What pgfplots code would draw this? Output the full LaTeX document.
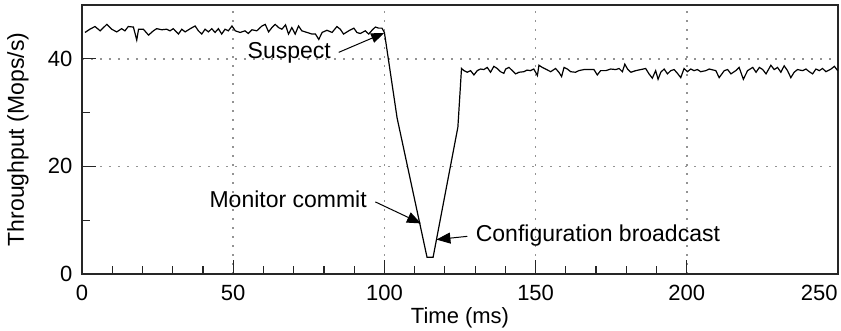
\documentclass[border=0pt]{standalone}
\usepackage{fontspec}
\setmainfont{Liberation Sans}
\usepackage{pgfplots}
\pgfplotsset{compat=1.18}
\usetikzlibrary{arrows.meta}

\begin{document}
\begin{tikzpicture}[font=\fontsize{11bp}{13bp}\selectfont]
\begin{axis}[
  scale only axis, width=378bp, height=134.5bp,
  xmin=0, xmax=250, ymin=0, ymax=50,
  xtick={0,50,...,200},
  extra x ticks={250},
  extra x tick style={grid=none, xticklabel style={anchor=north east, inner xsep=0pt}},
  ytick={0,20,40},
  minor x tick num=4, minor y tick num=1,
  tick pos=left, tick align=inside,
  major tick length=7bp, minor tick length=4bp,
  grid=major,
  major grid style={gray!85, line width=0.8bp, dash pattern=on 0.8bp off 3.7bp},
  axis line style={line width=0.6bp, black!85},
  every tick/.style={black!85, line width=0.6bp},
  /pgf/number format/assume math mode=true,
  xticklabel style={yshift=-1.8bp},
  yticklabel style={xshift=-1.3bp},
  xlabel={Time (ms)}, ylabel={Throughput (Mops/s)},
  xlabel style={at={(axis description cs:0.5,-0.1636)}, anchor=center},
  ylabel style={at={(axis description cs:-0.0847,0.5)}, anchor=center, font=\fontsize{11.5bp}{13bp}\selectfont},
]
\addplot[black, line width=0.6bp] coordinates {
(1.0,44.9) (2.6,45.5) (4.3,46.0) (6.0,45.2) (8.2,46.4) (9.8,45.5) (11.5,45.0)
(13.1,45.6) (14.2,45.2) (15.3,46.0) (17.0,45.9) (18.1,43.5) (18.7,45.5) (20.3,45.5)
(22.0,44.4) (23.6,45.2) (24.7,45.6) (26.4,45.4) (28.0,45.5) (29.1,45.2) (30.2,45.6)
(31.9,44.6) (33.0,45.5) (34.1,45.0) (35.8,45.6) (37.4,46.1) (38.5,45.2) (39.6,44.6)
(40.7,45.5) (41.8,45.0) (42.9,45.6) (44.0,44.9) (45.1,45.6) (46.2,44.6) (47.3,45.5)
(48.4,45.2) (49.6,46.1) (50.7,45.2) (52.3,44.9) (53.9,45.2) (55.0,44.7) (56.2,45.4)
(57.8,45.2) (59.5,46.1) (60.6,46.4) (61.7,45.0) (62.8,45.8) (63.9,46.4) (65.0,45.8)
(66.1,45.5) (67.3,46.3) (68.3,44.6) (69.4,45.8) (70.5,44.6) (71.6,46.1) (72.7,45.2)
(74.4,44.9) (76.0,44.6) (77.2,44.6) (78.3,43.6) (79.4,44.9) (81.0,45.3) (82.7,44.9)
(84.3,46.0) (85.4,45.5) (86.5,44.6) (88.2,45.2) (89.9,45.7) (90.9,44.9) (92.0,44.7)
(93.7,45.2) (94.8,44.6) (95.9,45.3) (97.0,45.9) (98.1,45.7) (99.2,45.7) (100.0,44.9)
(104.2,29.0) (114.1,3.1) (116.1,3.1) (124.3,27.3) (125.5,38.2)
(126.3,37.8) (127.4,37.5) (128.5,37.8) (129.6,37.0) (130.7,37.8) (131.8,38.1)
(132.9,38.0) (134.0,38.4) (135.1,37.5) (136.2,38.6) (137.3,38.2) (138.4,37.6)
(139.5,37.3) (140.1,38.1) (141.2,38.4) (142.3,37.8) (143.4,37.2) (144.5,37.5)
(146.1,37.6) (147.2,37.9) (148.3,37.8) (149.4,38.1) (150.6,36.9) (151.1,38.8)
(152.2,38.4) (153.3,38.1) (155.0,37.6) (156.6,38.2) (157.7,37.5) (158.6,36.7)
(159.4,38.4) (160.5,38.1) (161.6,37.6) (163.2,37.5) (164.3,37.8) (166.0,38.0)
(167.1,38.0) (169.3,38.0) (170.4,37.0) (171.5,37.8) (173.2,37.8) (174.8,38.1)
(176.5,38.0) (177.6,38.2) (178.7,37.6) (179.5,39.0) (180.4,38.1) (181.5,37.5)
(183.1,37.8) (184.8,38.0) (186.4,38.2) (187.5,37.2) (188.6,36.4) (189.7,37.8)
(190.5,36.2) (191.4,37.5) (192.5,38.1) (193.6,37.2) (194.7,37.8) (195.8,38.0)
(196.9,37.3) (198.0,36.5) (199.1,38.2) (200.2,37.6) (201.3,38.1) (202.4,37.8)
(203.5,38.0) (204.6,37.6) (206.3,37.8) (207.4,38.1) (209.6,37.8) (210.7,36.5)
(212.4,37.8) (213.5,38.0) (214.6,37.2) (216.2,37.8) (217.3,38.4) (218.7,36.2)
(220.1,37.8) (221.8,38.4) (222.9,37.5) (224.0,38.4) (225.1,38.0) (226.2,37.2)
(227.8,38.8) (228.9,38.0) (230.0,38.4) (231.1,37.5) (232.2,38.7) (233.3,37.8)
(234.4,36.5) (235.5,37.5) (236.6,38.0) (238.3,37.8) (239.4,38.1) (240.5,37.6)
(241.6,37.2) (242.7,38.1) (243.8,37.8) (244.9,38.2) (246.0,37.6) (247.7,38.1)
(248.8,38.6) (249.9,37.8)
};
\node[anchor=base east, inner sep=0pt, font=\fontsize{11.5bp}{13bp}\selectfont] at (axis cs:82.4,40.0) {Suspect};
\draw[-{Triangle[length=6.5bp,width=5bp]}, line width=0.5bp] (axis cs:84.9,41.2) -- (axis cs:99.9,44.8);
\node[anchor=base east, inner sep=0pt, font=\fontsize{11.5bp}{13bp}\selectfont] at (axis cs:94.3,12.35) {Monitor commit};
\draw[-{Triangle[length=7bp,width=5.5bp]}, line width=0.5bp] (axis cs:97.0,13.4) -- (axis cs:112.1,9.4);
\node[anchor=base west, inner sep=0pt, font=\fontsize{11.5bp}{13bp}\selectfont] at (axis cs:130.1,6.0) {Configuration broadcast};
\draw[-{Triangle[length=7bp,width=5.5bp]}, line width=0.5bp] (axis cs:127.4,7.0) -- (axis cs:117.2,6.4);
\coordinate (bl) at (rel axis cs:0,0);
\coordinate (tr) at (rel axis cs:1,1);
\end{axis}
\pgfresetboundingbox
\path ([xshift=-41bp,yshift=-28.5bp]bl) rectangle ([xshift=1.5bp,yshift=2.5bp]tr);
\end{tikzpicture}
\end{document}
